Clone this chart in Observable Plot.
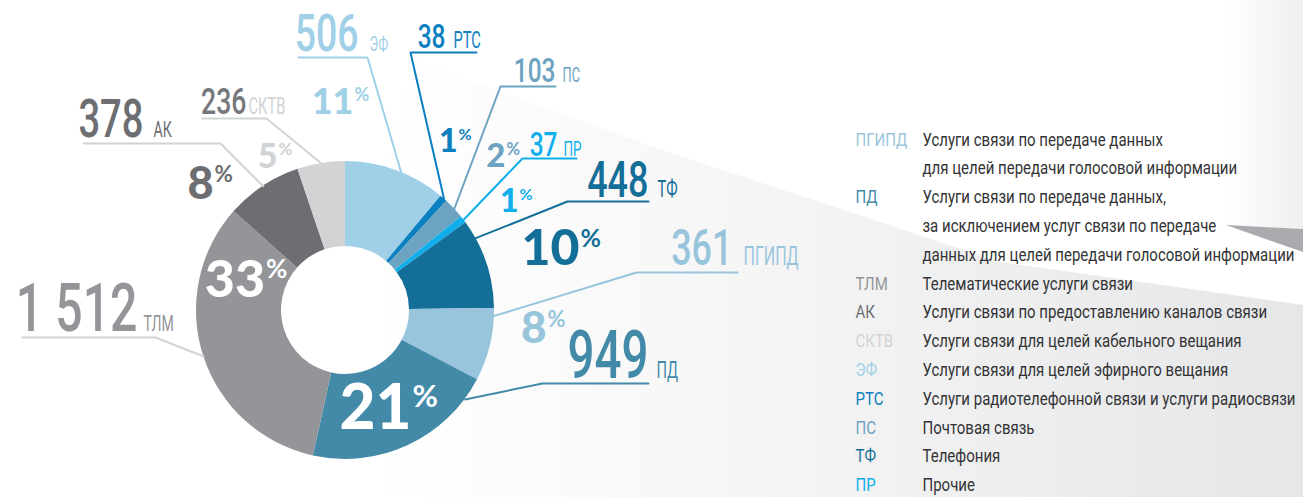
<!DOCTYPE html>
<html><head><meta charset="utf-8">
<script src="https://cdn.jsdelivr.net/npm/d3@7"></script>
<script src="https://cdn.jsdelivr.net/npm/@observablehq/plot@0.6"></script>
<style>
html,body{margin:0;padding:0;background:#fff;overflow:hidden}
#chart svg{display:block}
</style></head><body><div id="chart"></div>
<script>
// ---------- DATA ----------
const codes  = ["ЭФ","РТС","ПС","ПР","ТФ","ПГИПД","ПД","ТЛМ","АК","СКТВ"];
const values = [506, 38, 103, 37, 448, 361, 949, 1512, 378, 236];
const colors = ["#9fd0e7","#0b7fc0","#6ba3c0","#10afec","#146f98","#98c5dc","#428aa8","#939598","#6d6e71","#d1d3d4"];

const legendCodes = ["ПГИПД","ПД","ТЛМ","АК","СКТВ","ЭФ","РТС","ПС","ТФ","ПР"];
const legendTexts = [
  ["Услуги связи по передаче данных","для целей передачи голосовой информации"],
  ["Услуги связи по передаче данных,","за исключением услуг связи по передаче","данных для целей передачи голосовой информации"],
  ["Телематические услуги связи"],
  ["Услуги связи по предоставлению каналов связи"],
  ["Услуги связи для целей кабельного вещания"],
  ["Услуги связи для целей эфирного вещания"],
  ["Услуги радиотелефонной связи и услуги радиосвязи"],
  ["Почтовая связь"],
  ["Телефония"],
  ["Прочие"]
];

// ---------- LAYOUT (positions / sizes / styles) ----------
const W = 1303, H = 497, CX = 345, CY = 310, R0 = 64, R1 = 149;
const COND = "Roboto,'Open Sans',sans-serif";
const BOLD = "Lato,Roboto,'Open Sans',sans-serif";
const SQUEEZE = {num: 0.72, code: 0.64, legend: 0.79};
const layout = {
  "ЭФ":    {numEnd:358, base:50,  numSize:52, codeX:369, codeSize:20, hx1:298, hx2:367, hy:57,  elbow:"right", t:0.55, pctJoin:353, pctBase:113, pctSize:36},
  "РТС":   {numEnd:445, base:47,  numSize:34, codeX:453, codeSize:23, hx1:410, hx2:476, hy:52,  elbow:"left",  t:0.5,  pctJoin:457, pctBase:151, pctSize:32},
  "ПС":    {numEnd:555, base:81,  numSize:34, codeX:562, codeSize:20, hx1:500, hx2:555, hy:86,  elbow:"left",  t:0.5,  pctJoin:505, pctBase:166, pctSize:33},
  "ПР":    {numEnd:557, base:155, numSize:34, codeX:563, codeSize:21, hx1:522, hx2:576, hy:158, elbow:"left",  t:0.5,  pctJoin:518, pctBase:211, pctSize:32},
  "ТФ":    {numEnd:648, base:196, numSize:50, codeX:657, codeSize:23, hx1:567, hx2:648, hy:201, elbow:"left",  t:0.2,  pctJoin:579, pctBase:264, pctSize:50},
  "ПГИПД": {numEnd:732, base:264, numSize:50, codeX:743, codeSize:25, hx1:636, hx2:737, hy:272, elbow:"left",  t:0.1,  pctJoin:546, pctBase:342, pctSize:44},
  "ПД":    {numEnd:648, base:377, numSize:66, codeX:656, codeSize:23, hx1:542, hx2:648, hy:383, elbow:"left",  t:0.12, inside:true, pt:0.5, pctSize:62},
  "ТЛМ":   {numEnd:137, base:330, numSize:67, codeX:143, codeSize:22, hx1:22,  hx2:155, hy:337, elbow:"right", t:0.5,  inside:true, pt:0.8, pctSize:52, grey:true},
  "АК":    {numEnd:143, base:136, numSize:53, codeX:153, codeSize:22, hx1:83,  hx2:220, hy:143, elbow:"right", t:0.5,  pctJoin:213, pctBase:198, pctSize:45, grey:true},
  "СКТВ":  {numEnd:246, base:113, numSize:37, codeX:248, codeSize:23, hx1:202, hx2:266, hy:118, elbow:"right", t:0.5,  pctJoin:277, pctBase:167, pctSize:34, grey:true, numColor:"#77787b"}
};

// ---------- DERIVED ----------
const total = d3.sum(values);
const rows = codes.map((code, i) => ({code, value: values[i]}));
const arcs = d3.pie().value(d => d.value).sort(null)(rows);
const byCode = new Map(arcs.map(a => [a.data.code, a]));
const fmt = d3.formatLocale({decimal: ",", thousands: "\u00a0", grouping: [3], currency: ["", ""]}).format(",d");

function arcPoint(code, t, r) {
  const a = byCode.get(code);
  const ang = a.startAngle + t * (a.endAngle - a.startAngle);
  return [CX + r * Math.sin(ang), CY - r * Math.cos(ang)];
}

const labels = codes.map((code, i) => {
  const L = layout[code];
  const d = {code, num: fmt(values[i]), pct: String(Math.round(values[i] / total * 100)), ...L};
  if (L.inside) {
    const [px, py] = arcPoint(code, L.pt, (R0 + R1) / 2);
    d.pctJoin = px + 21;
    d.pctBase = py + 0.36 * L.pctSize;
  }
  d.signSize = d.pctSize * 0.5;
  d.signBase = d.pctBase - 0.716 * (d.pctSize - d.signSize);
  return d;
});

const leader = labels.flatMap(d => {
  const [ax, ay] = arcPoint(d.code, d.t, R1);
  const far = d.elbow === "right" ? d.hx1 : d.hx2;
  const el  = d.elbow === "right" ? d.hx2 : d.hx1;
  return [
    {code: d.code, grey: !!d.grey, x: far, y: d.hy},
    {code: d.code, grey: !!d.grey, x: el,  y: d.hy},
    {code: d.code, grey: !!d.grey, x: ax,  y: ay}
  ];
});

const legendLines = [];
{
  let row = 0;
  legendCodes.forEach((c, i) => legendTexts[i].forEach((t, j) => {
    legendLines.push({code: c, text: t, first: j === 0, y: 145 + 28.8 * row});
    row++;
  }));
}

// ---------- CUSTOM MARKS ----------
function background(index, {x, y}) {
  const g = d3.create("svg:g");
  const defs = g.append("defs");
  const lg = defs.append("linearGradient").attr("id", "bgGrad").attr("gradientUnits", "userSpaceOnUse")
    .attr("x1", x(380)).attr("y1", 0).attr("x2", x(1303)).attr("y2", 0);
  lg.append("stop").attr("offset", 0).attr("stop-color", "#ffffff");
  lg.append("stop").attr("offset", 0.5).attr("stop-color", "#f3f3f4");
  lg.append("stop").attr("offset", 1).attr("stop-color", "#e5e6e7");
  const lg2 = defs.append("linearGradient").attr("id", "bgGrad2").attr("gradientUnits", "userSpaceOnUse")
    .attr("x1", x(1225)).attr("y1", 0).attr("x2", x(1303)).attr("y2", 0);
  lg2.append("stop").attr("offset", 0).attr("stop-color", "#ffffff");
  lg2.append("stop").attr("offset", 1).attr("stop-color", "#efeff0");
  const poly = (pts) => pts.map(([a, b]) => `${x(a)},${y(b)}`).join(" ");
  g.append("polygon").attr("fill", "url(#bgGrad)")
    .attr("points", poly([[413,60],[650,146],[850,212],[1000,262],[1303,305],[1303,497],[190,497],[190,470],[345,310]]));
  g.append("polygon").attr("fill", "url(#bgGrad2)")
    .attr("points", poly([[1225,0],[1303,0],[1303,229],[1226,225]]));
  g.append("polygon").attr("fill", "#a9abae")
    .attr("points", poly([[1226,225],[1303,229],[1303,252]]));
  return g.node();
}

function donut(index, {x, y, color}) {
  const g = d3.create("svg:g").attr("transform", `translate(${x(CX)},${y(CY)})`);
  const arc = d3.arc().innerRadius(R0).outerRadius(R1);
  g.selectAll("path").data(arcs).join("path")
    .attr("d", arc)
    .attr("fill", d => color(d.data.code));
  return g.node();
}

// ---------- PLOT ----------
const plot = Plot.plot({
  width: W, height: H, margin: 0,
  x: {domain: [0, W], range: [0, W], axis: null},
  y: {domain: [0, H], range: [0, H], axis: null},
  color: {type: "ordinal", domain: codes, range: colors},
  style: {background: "transparent"},
  marks: [
    background,
    donut,
    Plot.line(leader.filter(d => !d.grey), {x: "x", y: "y", z: "code", stroke: "code", strokeWidth: 2, curve: "linear"}),
    Plot.line(leader.filter(d => d.grey), {x: "x", y: "y", z: "code", stroke: "#d1d3d4", strokeWidth: 2, curve: "linear"}),
    // value numbers
    Plot.text(labels.filter(d => !d.numColor), {x: "numEnd", y: "base", text: "num", fill: "code", fontSize: d => d.numSize, fontWeight: 500, textAnchor: "end", lineAnchor: "bottom", fontFamily: COND, ariaDescription: "num"}),
    Plot.text(labels.filter(d => d.numColor), {x: "numEnd", y: "base", text: "num", fill: "#77787b", fontSize: d => d.numSize, fontWeight: 500, textAnchor: "end", lineAnchor: "bottom", fontFamily: COND, ariaDescription: "num"}),
    // codes next to numbers
    Plot.text(labels, {x: "codeX", y: "base", text: "code", fill: "code", fontSize: d => d.codeSize, textAnchor: "start", lineAnchor: "bottom", fontFamily: COND, ariaDescription: "code"}),
    // percentages outside
    Plot.text(labels.filter(d => !d.inside), {x: "pctJoin", y: "pctBase", text: "pct", fill: "code", fontSize: d => d.pctSize, fontWeight: 900, textAnchor: "end", lineAnchor: "bottom", fontFamily: BOLD}),
    Plot.text(labels.filter(d => !d.inside), {x: d => d.pctJoin + 1, y: "signBase", text: () => "%", fill: "code", fontSize: d => d.signSize, fontWeight: 700, textAnchor: "start", lineAnchor: "bottom", fontFamily: BOLD}),
    // percentages inside (white)
    Plot.text(labels.filter(d => d.inside), {x: "pctJoin", y: "pctBase", text: "pct", fill: "white", fontSize: d => d.pctSize, fontWeight: 900, textAnchor: "end", lineAnchor: "bottom", fontFamily: BOLD}),
    Plot.text(labels.filter(d => d.inside), {x: d => d.pctJoin + 1, y: "signBase", text: () => "%", fill: "white", fontSize: d => d.signSize, fontWeight: 700, textAnchor: "start", lineAnchor: "bottom", fontFamily: BOLD}),
    // legend
    Plot.text(legendLines.filter(d => d.first), {x: () => 855, y: "y", text: "code", fill: "code", fontSize: 19, textAnchor: "start", lineAnchor: "bottom", fontFamily: COND, ariaDescription: "legend"}),
    Plot.text(legendLines, {x: () => 922, y: "y", text: "text", fill: "#333335", fontSize: 19, textAnchor: "start", lineAnchor: "bottom", fontFamily: COND, ariaDescription: "legend"})
  ]
});

// horizontal squeeze to imitate the condensed typeface of the original
for (const [k, s] of Object.entries(SQUEEZE)) {
  plot.querySelectorAll(`g[aria-description="${k}"] text`).forEach(t => {
    t.setAttribute("transform", (t.getAttribute("transform") || "") + ` scale(${s},1)`);
  });
}
document.getElementById("chart").appendChild(plot);
</script>
</body></html>
